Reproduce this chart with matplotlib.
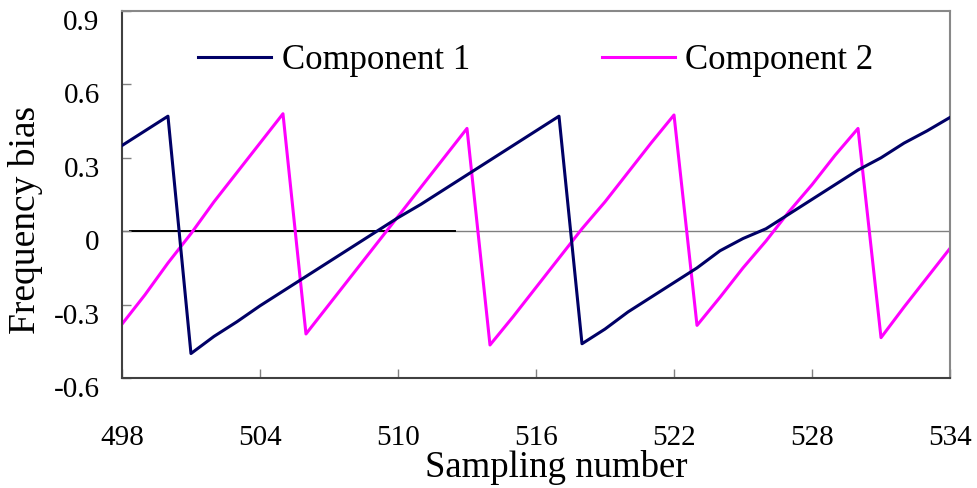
import numpy as np
import matplotlib
matplotlib.use("Agg")
import matplotlib.pyplot as plt
import matplotlib.transforms as mtransforms

# sample index
x = np.arange(498, 535)

# frequency bias, one value per sample
comp1 = [0.35, 0.41, 0.47, -0.50, -0.43, -0.37, -0.305, -0.245, -0.185, -0.125,
         -0.065, -0.005, 0.055, 0.11, 0.17, 0.23, 0.29, 0.35, 0.41, 0.47,
         -0.46, -0.40, -0.33, -0.27, -0.21, -0.15, -0.08, -0.03, 0.01, 0.07,
         0.13, 0.19, 0.25, 0.30, 0.36, 0.41, 0.465]
comp2 = [-0.38, -0.26, -0.13, -0.01, 0.12, 0.24, 0.36, 0.48, -0.42, -0.30,
         -0.18, -0.06, 0.06, 0.18, 0.30, 0.42, -0.465, -0.35, -0.23, -0.11,
         0.01, 0.12, 0.24, 0.36, 0.475, -0.385, -0.27, -0.15, -0.04, 0.08,
         0.19, 0.31, 0.42, -0.435, -0.31, -0.19, -0.07]

xticks = [498, 504, 510, 516, 522, 528, 534]
yticks = [-0.6, -0.3, 0, 0.3, 0.6, 0.9]
ytick_labels = ["-0.6", "-0.3", "0", "0.3", "0.6", "0.9"]

plt.rcParams['font.family'] = ['Liberation Serif', 'DejaVu Serif']

fig = plt.figure(figsize=(9.78, 4.88), dpi=100)
ax = fig.add_axes([0.1247, 0.2254, 0.8467, 0.7521])

# zero reference line (black for the first part, grey after, as in the source)
ax.axhline(0, color='#808080', lw=1.0, zorder=1)
ax.axhline(0, xmin=0.01, xmax=0.402, color='black', lw=1.4, zorder=1)

ax.plot(x, comp1, color='#000066', lw=2.2, label='Component 1', zorder=3)
ax.plot(x, comp2, color='#ff00ff', lw=2.2, label='Component 2', zorder=2)

ax.set_xlim(498, 534)
ax.set_ylim(-0.6, 0.9)
ax.set_xticks(xticks)
ax.set_yticks(yticks)
ax.set_yticklabels(ytick_labels)

ax.tick_params(axis='both', direction='in', length=6.5, width=1.0,
               color='#808080', labelsize=21)
ax.tick_params(axis='x', pad=34)
ax.tick_params(axis='y', pad=16)

# y tick labels sit a little below their ticks in the source
offset = mtransforms.ScaledTranslation(0, -9 / 100, fig.dpi_scale_trans)
for lab in ax.get_yticklabels():
    lab.set_transform(lab.get_transform() + offset)

for side in ['left', 'bottom']:
    ax.spines[side].set_color('#404040')
    ax.spines[side].set_linewidth(1.5)
for side in ['top', 'right']:
    ax.spines[side].set_color('#888888')
    ax.spines[side].set_linewidth(1.5)

ax.set_xlabel('Sampling number', fontsize=26.5, va='center')
ax.xaxis.set_label_coords(0.524, -0.245)
ax.set_ylabel('Frequency bias', fontsize=27, va='center')
ax.yaxis.set_label_coords(-0.117, 0.43)

ax.legend(loc='center', ncol=2, frameon=False, fontsize=25,
          handlelength=2.1, columnspacing=3.8, handletextpad=0.3,
          bbox_to_anchor=(0.5, 0.865))

fig.savefig('out.png', dpi=100)
